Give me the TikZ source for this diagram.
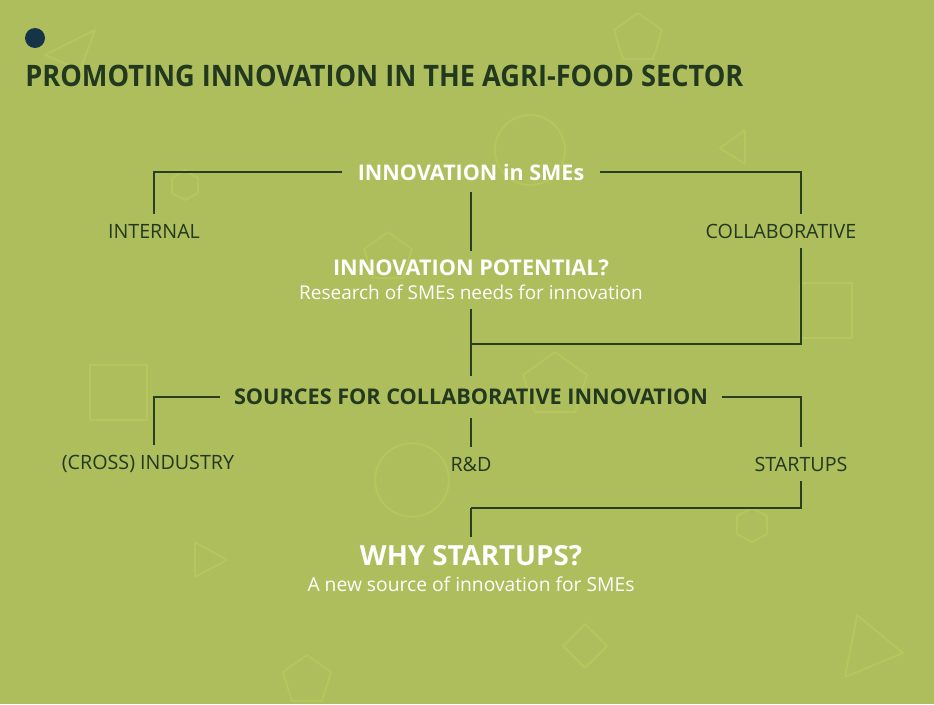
\documentclass[tikz,border=0pt]{standalone}
\usepackage{fontspec}
\setmainfont{Open Sans}
\newfontfamily\titlefont{Open Sans}[FakeStretch=0.92]
\definecolor{bggreen}{HTML}{AEBE5C}
\definecolor{darkline}{HTML}{2A3F22}
\definecolor{darktext}{HTML}{22381F}
\definecolor{shapeyel}{HTML}{C4D45E}
\definecolor{dotblue}{HTML}{163447}

\begin{document}
\begin{tikzpicture}[x=0.025cm,y=-0.025cm,
    conn/.style={draw=darkline,line width=1.4pt},
    deco/.style={draw=shapeyel,line width=1.3pt,opacity=0.4,line join=round},
    lighthead/.style={text=white,font=\bfseries\fontsize{15.3}{18}\selectfont,inner xsep=11pt,inner ysep=8pt},
    darkhead/.style={text=darktext,font=\bfseries\fontsize{15.4}{18}\selectfont,inner xsep=10pt,inner ysep=9pt},
    branch/.style={text=darktext,font=\fontsize{14}{17}\selectfont,inner ysep=7pt}]
    % background and faint shapes
    \fill[bggreen] (0,0) rectangle (934,704);
    \draw[deco] (45,55) -- (95,30) -- (80,70) -- cycle;
    \draw[deco] (638,13) -- (662,30) -- (653,59) -- (623,59) -- (614,30) -- cycle;
    \draw[deco] (530,150) circle (0.875cm);
    \draw[deco] (720,148) -- (745,130) -- (745,164) -- cycle;
    \draw[deco] (185,170) -- (198,178) -- (198,193) -- (185,200) -- (172,193) -- (172,178) -- cycle;
    \draw[deco] (388,232) -- (412,249) -- (403,278) -- (373,278) -- (364,249) -- cycle;
    \draw[deco] (800,283) rectangle (852,338);
    \draw[deco] (90,365) rectangle (147,420);
    \draw[deco] (555,352) -- (587,375) -- (575,412) -- (535,412) -- (523,375) -- cycle;
    \draw[deco] (412,480) circle (0.92cm);
    \draw[deco] (752,508) -- (767,516) -- (767,534) -- (752,542) -- (737,534) -- (737,516) -- cycle;
    \draw[deco] (195,542) -- (227,560) -- (195,577) -- cycle;
    \draw[deco] (307,655) -- (331,672) -- (322,701) -- (292,701) -- (283,672) -- cycle;
    \draw[deco] (585,624) -- (607,646) -- (585,668) -- (563,646) -- cycle;
    \draw[deco] (857,615) -- (903,653) -- (845,677) -- cycle;

    % title
    \fill[dotblue] (35,38) circle (0.25cm);
    \node[anchor=base west,inner sep=0,text=darktext,
      font=\titlefont\bfseries\fontsize{21}{25}\selectfont] (title) at (25,86)
      {PROMOTING INNOVATION IN THE AGRI-FOOD SECTOR};

    % first level
    \node[lighthead] (sme) at (471,172) {INNOVATION in SMEs};
    \node[branch] (internal) at (154,231) {INTERNAL};
    \node[branch] (collab) at (781,231) {COLLABORATIVE};
    \node[text=white,align=center,inner ysep=6pt] (potential) at (471,280)
      {{\bfseries\fontsize{15.4}{18}\selectfont INNOVATION POTENTIAL?}\\[5pt]
       {\fontsize{13.5}{16}\selectfont Research of SMEs needs for innovation}};

    % second level
    \node[darkhead] (sources) at (471,397) {SOURCES FOR COLLABORATIVE INNOVATION};
    \node[branch] (industry) at (148,464) {(CROSS) INDUSTRY};
    \node[branch] (rnd) at (471,464) {R\&D};
    \node[branch] (startups) at (801,464) {STARTUPS};
    \node[text=white,align=center,inner ysep=6pt] (why) at (471,569)
      {{\bfseries\fontsize{19.7}{23}\selectfont WHY STARTUPS?}\\[6.5pt]
       {\fontsize{13.7}{16}\selectfont A new source of innovation for SMEs}};

    \coordinate (join1) at (471,344);
    \coordinate (join2) at (471,508);

    \draw[conn] (sme.west) -| (internal.north);
    \draw[conn] (sme.east) -| (startups.north |- collab.north);
    \draw[conn] (sme.south) -- (potential.north);
    \draw[conn] (startups.south |- collab.south) |- (join1);
    \draw[conn] (potential.south) -- (sources.north);
    \draw[conn] (sources.west) -| (internal.south |- industry.north);
    \draw[conn] (sources.east) -| (startups.north);
    \draw[conn] (sources.south) -- (rnd.north);
    \draw[conn] (startups.south) |- (join2);
    \draw[conn] (join2) -- (why.north);
\end{tikzpicture}
\end{document}
